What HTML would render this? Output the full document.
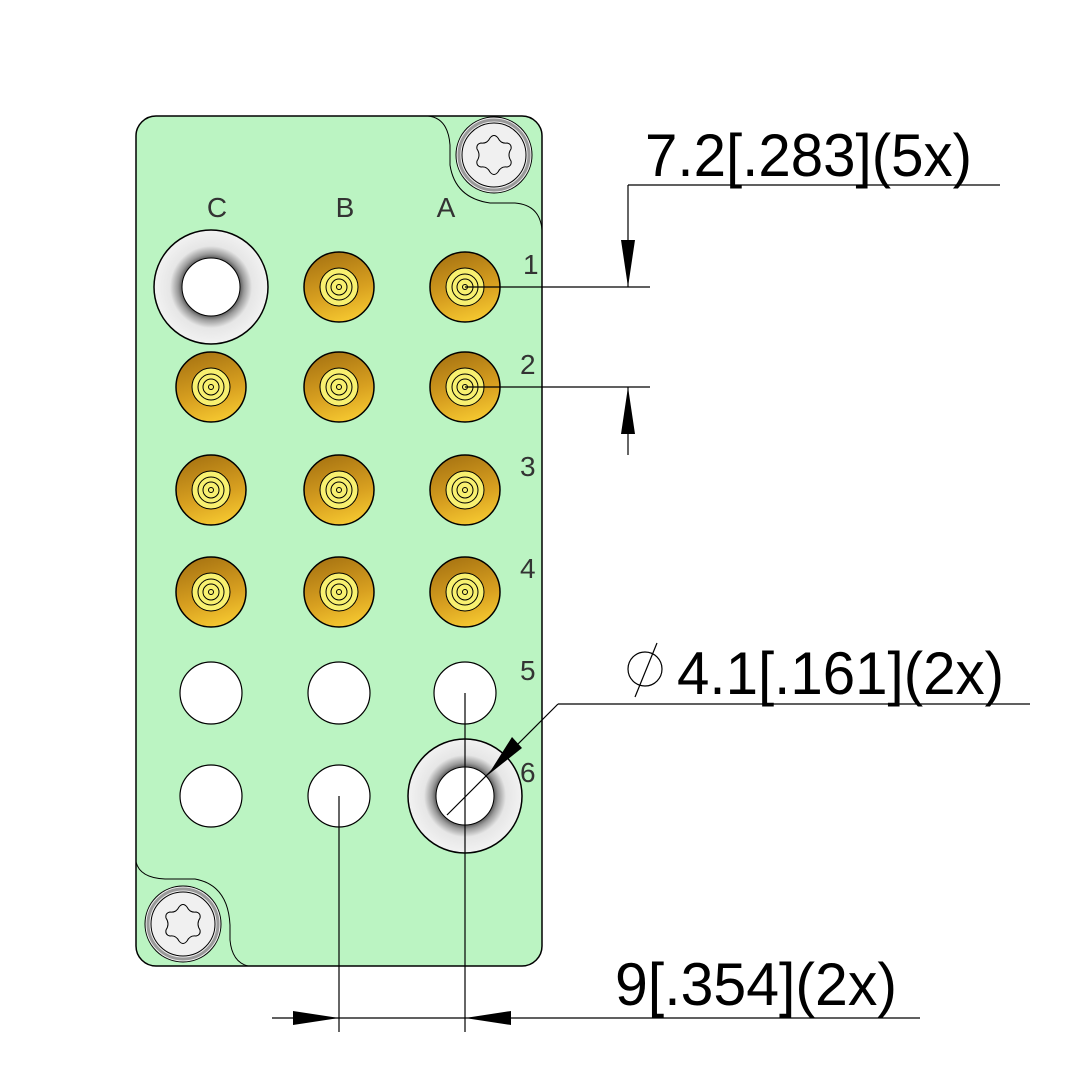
<!DOCTYPE html>
<html><head><style>html,body{margin:0;padding:0;background:#fff}svg{display:block}</style></head>
<body>
<svg width="1083" height="1083" viewBox="0 0 1083 1083" xmlns="http://www.w3.org/2000/svg" font-family="Liberation Sans, sans-serif">
<defs>
<linearGradient id="goldl" x1="0.3" y1="0" x2="0.6" y2="1">
<stop offset="0" stop-color="#a87412"/><stop offset="0.6" stop-color="#d8a020"/><stop offset="1" stop-color="#f5c830"/>
</linearGradient>
<radialGradient id="grom" cx="0.5" cy="0.5" r="0.5">
<stop offset="0.5" stop-color="#555"/><stop offset="0.58" stop-color="#999"/><stop offset="0.72" stop-color="#e6e6e6"/><stop offset="1" stop-color="#f2f2f2"/>
</radialGradient>
<g id="pin">
<circle r="35" fill="url(#goldl)" stroke="#000" stroke-width="1.5"/>
<circle r="19" fill="#f8f070" stroke="#000" stroke-width="1"/>
<circle r="13" fill="none" stroke="#000" stroke-width="1"/>
<circle r="8" fill="none" stroke="#000" stroke-width="1"/>
<circle r="2.5" fill="none" stroke="#000" stroke-width="1"/>
</g>
<g id="grommet">
<circle r="57" fill="url(#grom)" stroke="#000" stroke-width="1.5"/>
<circle r="29" fill="#fff" stroke="#000" stroke-width="1"/>
</g>
<g id="screw">
<circle r="38" fill="#f0f0f0" stroke="#000" stroke-width="1"/>
<circle r="35" fill="none" stroke="#999" stroke-width="3"/>
<circle r="32" fill="#f0f0f0" stroke="#000" stroke-width="1"/>
<path d="M-4,-17 Q0,-22 4,-17 Q7,-11 13,-12 Q18,-11 17,-6 Q13,0 17,6 Q18,11 13,12 Q7,11 4,17 Q0,22 -4,17 Q-7,11 -13,12 Q-18,11 -17,6 Q-13,0 -17,-6 Q-18,-11 -13,-12 Q-7,-11 -4,-17Z" fill="#f0f0f0" stroke="#000" stroke-width="1"/>
</g>
<g id="hole"><circle r="31" fill="#fff" stroke="#000" stroke-width="1.2"/></g>
</defs>
<rect x="136" y="116" width="406" height="850" rx="20" fill="#bbf4c2" stroke="#000" stroke-width="1.5"/>
<path d="M428,116 Q448,118 450,145 L450,165 Q455,198 490,203 L515,203 Q540,205 542,230" fill="none" stroke="#000" stroke-width="1"/>
<path d="M136,862 Q140,878 165,879 L195,879 Q228,885 230,925 L230,940 Q232,962 248,966" fill="none" stroke="#000" stroke-width="1"/>
<use href="#screw" x="494" y="155"/>
<use href="#screw" x="183" y="924"/>
<g font-size="28" fill="#333" text-anchor="middle">
<text x="217" y="217">C</text><text x="345" y="217">B</text><text x="446" y="217">A</text>
</g>
<g font-size="28" fill="#333">
<text x="523" y="274">1</text><text x="520" y="374">2</text><text x="520" y="476">3</text><text x="520" y="578">4</text><text x="520" y="680">5</text><text x="520" y="782">6</text>
</g>
<use href="#grommet" x="211" y="287"/>
<use href="#pin" x="339" y="287"/><use href="#pin" x="465" y="287"/>
<use href="#pin" x="211" y="387"/><use href="#pin" x="339" y="387"/><use href="#pin" x="465" y="387"/>
<use href="#pin" x="211" y="490"/><use href="#pin" x="339" y="490"/><use href="#pin" x="465" y="490"/>
<use href="#pin" x="211" y="592"/><use href="#pin" x="339" y="592"/><use href="#pin" x="465" y="592"/>
<use href="#hole" x="211" y="693"/><use href="#hole" x="339" y="693"/><use href="#hole" x="465" y="693"/>
<use href="#hole" x="211" y="796"/><use href="#hole" x="339" y="796"/>
<use href="#grommet" x="465" y="796"/>
<g stroke="#000" stroke-width="1.2" fill="none">
<line x1="628" y1="185" x2="1000" y2="185"/>
<line x1="628" y1="185" x2="628" y2="287"/>
<line x1="465" y1="287" x2="650" y2="287"/>
<line x1="465" y1="387" x2="650" y2="387"/>
<line x1="628" y1="387" x2="628" y2="455"/>
<line x1="558" y1="704" x2="1030" y2="704"/>
<line x1="558" y1="704" x2="447" y2="815"/>
<line x1="272" y1="1018" x2="920" y2="1018"/>
<line x1="339" y1="796" x2="339" y2="1032"/>
<line x1="465" y1="693" x2="465" y2="1032"/>
<circle cx="645" cy="669" r="17"/>
<line x1="635" y1="697" x2="657" y2="643"/>
</g>
<g fill="#000">
<polygon points="628,287 621,240 635,240"/>
<polygon points="628,387 621,434 635,434"/>
<polygon points="488,775 512,737 522,748"/>
<polygon points="339,1018 293,1011 293,1025"/>
<polygon points="465,1018 511,1011 511,1025"/>
</g>
<g font-size="60" fill="#000">
<text x="645" y="176" textLength="327" lengthAdjust="spacingAndGlyphs">7.2[.283](5x)</text>
<text x="677" y="694" textLength="327" lengthAdjust="spacingAndGlyphs">4.1[.161](2x)</text>
<text x="615" y="1005" textLength="282" lengthAdjust="spacingAndGlyphs">9[.354](2x)</text>
</g>
</svg>
</body></html>
